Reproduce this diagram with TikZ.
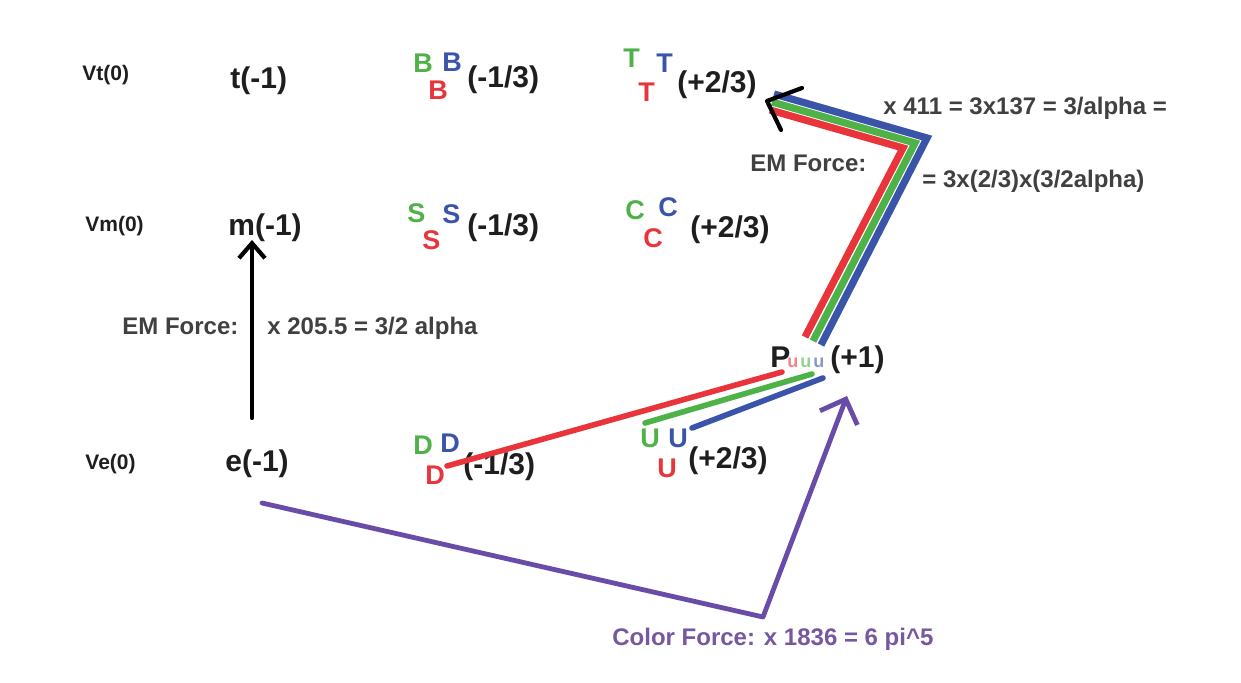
\documentclass[tikz,border=0pt]{standalone}
\usepackage{fontspec}
\setmainfont{Liberation Sans}
\usetikzlibrary{arrows.meta}
\definecolor{ink}{RGB}{30,30,30}
\definecolor{qred}{RGB}{232,52,58}
\definecolor{qgreen}{RGB}{78,178,72}
\definecolor{qblue}{RGB}{58,84,170}
\definecolor{qpurple}{RGB}{104,76,168}
\definecolor{qptext}{RGB}{118,88,160}
\begin{document}
\begin{tikzpicture}[x=0.5pt,y=-0.5pt,
  base/.style={anchor=base west, inner sep=0pt, font=\bfseries\fontsize{15}{15}\selectfont, text=ink},
  small/.style={base, font=\bfseries\fontsize{10.5}{10.5}\selectfont},
  note/.style={base, font=\bfseries\fontsize{12}{12}\selectfont, text=ink!85},
  qlet/.style={base, font=\bfseries\fontsize{13.5}{13.5}\selectfont},
  ql/.style={qlet, text=qred},
  qg/.style={qlet, text=qgreen},
  qb/.style={qlet, text=qblue},
  tiny/.style={base, font=\bfseries\fontsize{9}{9}\selectfont, opacity=0.6},
  qline/.style={line width=2.8pt, line cap=round, line join=miter},
  bandline/.style={line width=3.6pt, line cap=butt, line join=miter},
  blk/.style={line width=2.1pt, draw=black, line cap=round, line join=round},
  purp/.style={line width=2.4pt, draw=qpurple, line cap=round, line join=round}
]
\useasboundingbox[fill=white] (0,0) rectangle (1241,683);

% row t
\node[small] (vt) at (82,81) {Vt(0)};
\node[base] (tl) at (230,89) {t(-1)};
\node[qg] (bG) at (413,73) {B};
\node[qb] (bB) at (442,72) {B};
\node[ql] (bR) at (428,100) {B};
\node[base] (bq) at (467,88) {(-1/3)};
\node[qg] (tG) at (623,68) {T};
\node[qb] (tB) at (656,73) {T};
\node[ql] (tR) at (638,102) {T};
\node[base] (tq) at (677,93) {(+2/3)};

% row m
\node[small] (vm) at (85,232) {Vm(0)};
\node[base] (ml) at (228,236) {m(-1)};
\node[qg] (sG) at (407,223) {S};
\node[qb] (sB) at (442,224) {S};
\node[ql] (sR) at (422,250) {S};
\node[base] (sq) at (467,236) {(-1/3)};
\node[qg] (cG) at (625,220) {C};
\node[qb] (cB) at (658,217) {C};
\node[ql] (cR) at (643,248) {C};
\node[base] (cq) at (690,238) {(+2/3)};

% row e
\node[small] (ve) at (85,470) {Ve(0)};
\node[base] (el) at (225,472) {e(-1)};
\node[qg] (dG) at (413,455) {D};
\node[qb] (dB) at (440,453) {D};
\node[ql] (dR) at (425,485) {D};
\node[base] (dq) at (463,475) {(-1/3)};
\node[qg] (uG) at (640,448) {U};
\node[qb] (uB) at (668,448) {U};
\node[ql] (uR) at (657,478) {U};
\node[base] (uq) at (688,469) {(+2/3)};

% proton
\node[base] (P) at (770,368) {P};
\node[tiny, text=qred] (pu1) at (787,368) {u};
\node[tiny, text=qgreen] (pu2) at (800,368) {u};
\node[tiny, text=qblue] (pu3) at (813,368) {u};
\node[base] (pq) at (830,368) {(+1)};

% notes
\node[note] (emlow) at (122,335) {EM Force:};
\node[note] (emlowv) at (267,335) {x 205.5 = 3/2 alpha};
\node[note] (emup) at (750,172) {EM Force:};
\node[note] (emupa) at (883,115) {x 411 = 3x137 = 3/alpha =};
\node[note] (emupb) at (922,188) {= 3x(2/3)x(3/2alpha)};
\node[note, text=qptext] (cf) at (612,645) {Color Force: x 1836 = 6 pi\^{}5};

% coordinates for connectors
\coordinate (dRs) at (447,466);  \coordinate (pRe) at (782,372);
\coordinate (uGs) at (645,423);  \coordinate (pGe) at (812,374);
\coordinate (uBs) at (692,428);  \coordinate (pBe) at (823,378);
\coordinate (pRu) at (805,337);  \coordinate (kR) at (903,148); \coordinate (aR) at (770,110);
\coordinate (pGu) at (813,341);  \coordinate (kG) at (915,143); \coordinate (aG) at (772,102);
\coordinate (pBu) at (821,345);  \coordinate (kB) at (927,138); \coordinate (aB) at (774,94);
\coordinate (tip) at (767,101);  \coordinate (armA) at (802,88); \coordinate (armB) at (781,130);
\coordinate (eUp) at (252,418);  \coordinate (mDown) at (252,240);
\coordinate (eLow) at (262,503); \coordinate (cCorner) at (763,617); \coordinate (pLow) at (847,396);

% quark lines
\draw[qline, draw=qred] (dRs) -- (pRe);
\draw[qline, draw=qgreen] (uGs) -- (pGe);
\draw[qline, draw=qblue] (uBs) -- (pBe);
\draw[bandline, draw=qblue] (pBu) -- (kB) -- (aB);
\draw[bandline, draw=qgreen] (pGu) -- (kG) -- (aG);
\draw[bandline, draw=qred] (pRu) -- (kR) -- (aR);
\draw[blk] (armA) -- (tip) -- (armB);

% EM arrow e -> m
\draw[blk, -{Straight Barb[length=7.5pt,width=13pt]}] (eUp) -- (mDown);

% colour force arrow
\draw[purp, -{Straight Barb[length=10pt,width=20pt]}] (eLow) -- (cCorner) -- (pLow);
\end{tikzpicture}
\end{document}
